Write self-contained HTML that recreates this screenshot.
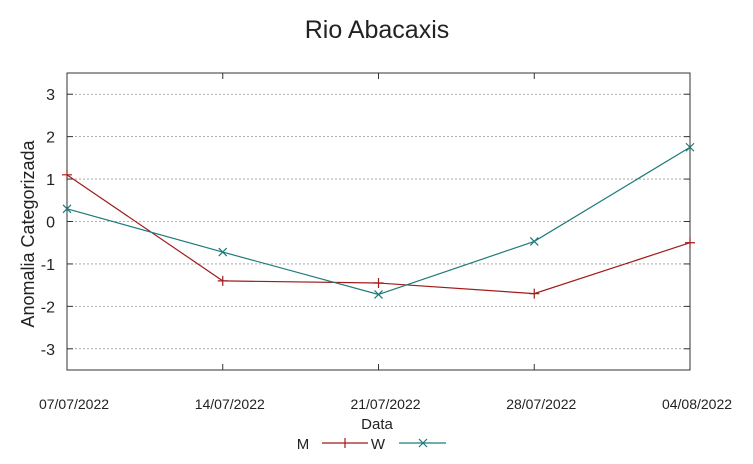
<!DOCTYPE html>
<html><head><meta charset="utf-8"><style>
body{margin:0;background:#fff;}
svg text{font-family:"Liberation Sans",sans-serif;fill:#222;}
</style></head><body>
<svg width="753" height="459" viewBox="0 0 753 459">
<g id="grid"></g>
<g id="axes"></g>
<g id="series"></g>
<text x="377" y="38" font-size="25" text-anchor="middle">Rio Abacaxis</text>
<text x="377" y="429" font-size="15" text-anchor="middle">Data</text>
<text transform="translate(34,234) rotate(-90)" font-size="18" text-anchor="middle">Anomalia Categorizada</text>
<g>
<text x="303" y="449" font-size="15" text-anchor="middle">M</text>
<line x1="322" y1="443" x2="368" y2="443" stroke="#a01b1b" stroke-width="1.2"/>
<line x1="345" y1="438" x2="345" y2="448" stroke="#a01b1b" stroke-width="1.2"/>
<text x="378" y="449" font-size="15" text-anchor="middle">W</text>
<line x1="399" y1="443" x2="446" y2="443" stroke="#1d7a7a" stroke-width="1.2"/>
<path d="M419,439 L427,447 M419,447 L427,439" stroke="#1d7a7a" stroke-width="1.2"/>
</g>
</svg>
<script>
const categories=["07/07/2022","14/07/2022","21/07/2022","28/07/2022","04/08/2022"];
const seriesM=[1.1,-1.4,-1.45,-1.7,-0.5];
const seriesW=[0.3,-0.72,-1.72,-0.47,1.75];
const yTicks=[3,2,1,0,-1,-2,-3];
const NS="http://www.w3.org/2000/svg";
const L=67,R=690,T=73,B=370,yMin=-3.5,yMax=3.5;
const xs=i=>L+i*(R-L)/(categories.length-1);
const ys=v=>B-(v-yMin)/(yMax-yMin)*(B-T);
function mk(tag,attrs,parent){const e=document.createElementNS(NS,tag);for(const k in attrs)e.setAttribute(k,attrs[k]);parent.appendChild(e);return e;}
const grid=document.getElementById('grid'),axes=document.getElementById('axes'),ser=document.getElementById('series');
yTicks.forEach(t=>{
 const y=ys(t);
 const g=mk('line',{x1:L,x2:R,y1:y,y2:y,stroke:'#999','stroke-dasharray':'2,2','stroke-width':0.8},grid);
 
 
 const tk=mk('line',{x1:L,x2:L+6,y1:y,y2:y,stroke:'#333'},axes);
 
 
 const tk2=mk('line',{x1:R-6,x2:R,y1:y,y2:y,stroke:'#333'},axes);
 
 
 const tx=mk('text',{x:L-12,y:y+6,'font-size':16,'text-anchor':'end'},axes);
 tx.textContent=t;
 
 
});
const fr=mk('rect',{x:L,y:T,width:R-L,height:B-T,fill:'none',stroke:'#333','stroke-width':1},axes);


categories.forEach((c,i)=>{
 const x=xs(i);
 const tk=mk('line',{x1:x,x2:x,y1:B-6,y2:B,stroke:'#333'},axes);
 
 
 const tk2=mk('line',{x1:x,x2:x,y1:T,y2:T+6,stroke:'#333'},axes);
 
 
 const tx=mk('text',{x:x+7,y:409,'font-size':14,'text-anchor':'middle'},axes);
 tx.textContent=c;
 
 
});
function draw(vals,color,name,marker){
 const pts=vals.map((v,i)=>xs(i)+','+ys(v)).join(' ');
 const pl=mk('polyline',{points:pts,fill:'none',stroke:color,'stroke-width':1.2},ser);
 
 
 vals.forEach((v,i)=>{
  const x=xs(i),y=ys(v);
  const d=marker==='plus'?`M${x-5},${y} L${x+5},${y} M${x},${y-5} L${x},${y+5}`:`M${x-4},${y-4} L${x+4},${y+4} M${x-4},${y+4} L${x+4},${y-4}`;
  const p=mk('path',{d:d,stroke:color,'stroke-width':1.2,fill:'none'},ser);
  
  
 });
}
draw(seriesM,'#a01b1b','series-m','plus');
draw(seriesW,'#1d7a7a','series-w','x');
</script>
</body></html>
